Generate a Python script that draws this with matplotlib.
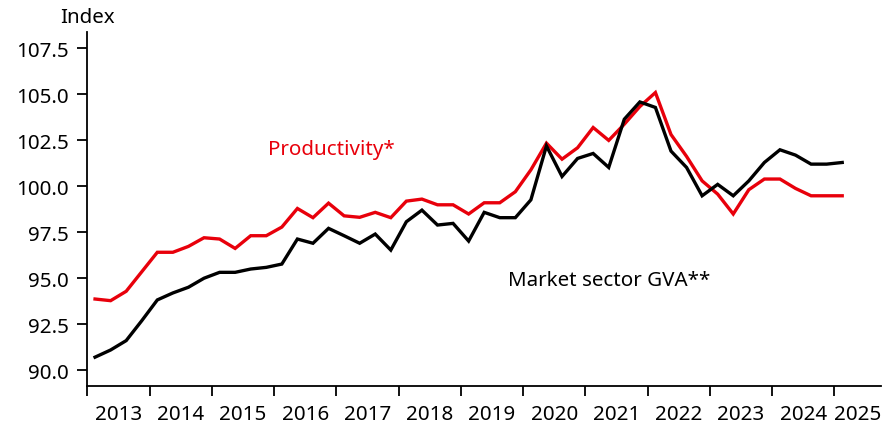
import numpy as np
import matplotlib
matplotlib.use("Agg")
import matplotlib.pyplot as plt

# ── Data (quarterly, 2013 Q1 – 2025 Q1) ─────────────────────────────────────
start_year = 2013
productivity = [
    93.88, 93.79, 94.30, 95.36, 96.42, 96.42, 96.74, 97.21, 97.14, 96.63,
    97.32, 97.32, 97.79, 98.80, 98.30, 99.09, 98.40, 98.32, 98.59, 98.30,
    99.20, 99.31, 99.00, 99.00, 98.50, 99.11, 99.11, 99.71, 100.90, 102.35,
    101.48, 102.10, 103.20, 102.50, 103.38, 104.34, 105.10, 102.82, 101.63, 100.30,
    99.58, 98.50, 99.82, 100.40, 100.40, 99.89, 99.49, 99.49, 99.49,
]
market_gva = [
    90.72, 91.11, 91.62, 92.70, 93.83, 94.21, 94.52, 95.01, 95.33, 95.33,
    95.51, 95.60, 95.78, 97.14, 96.91, 97.72, 97.32, 96.91, 97.41, 96.54,
    98.08, 98.71, 97.90, 97.99, 97.03, 98.59, 98.30, 98.30, 99.27, 102.20,
    100.54, 101.52, 101.79, 101.03, 103.65, 104.59, 104.29, 101.92, 101.03, 99.49,
    100.11, 99.49, 100.30, 101.30, 101.99, 101.70, 101.21, 101.21, 101.30,
]
year_labels = [str(y) for y in range(2013, 2026)]
y_ticks = [90.0, 92.5, 95.0, 97.5, 100.0, 102.5, 105.0, 107.5]

# ── Style ────────────────────────────────────────────────────────────────────
plt.rcParams["font.family"] = ["Noto Sans", "DejaVu Sans"]
RED = "#e8000b"
FS = 14.8

x = start_year + (np.arange(len(productivity)) + 0.5) / 4

fig = plt.figure(figsize=(8.95, 4.27), dpi=100)
ax = fig.add_axes([0.0975, 0.0944, 0.887, 0.8283])

ax.plot(x, productivity, color=RED, lw=2.4, solid_joinstyle="miter")
ax.plot(x, market_gva, color="black", lw=2.4, solid_joinstyle="miter")

ax.set_xlim(2013, 2025.75)
ax.set_ylim(89.17, 108.39)

for side in ("top", "right"):
    ax.spines[side].set_visible(False)
for side in ("left", "bottom"):
    ax.spines[side].set_linewidth(1.3)

# year boundaries as tick marks, labels centred in each year
ax.set_xticks(range(2013, 2026))
ax.set_xticklabels([])
label_pos = [y + 0.5 for y in range(2013, 2025)] + [2025.375]
ax.set_xticks(label_pos, minor=True)
ax.set_xticklabels(year_labels, minor=True, fontsize=FS)
ax.tick_params(axis="x", which="major", length=7, width=1.3)
ax.tick_params(axis="x", which="minor", length=0, pad=13)

ax.set_yticks(y_ticks)
ax.set_yticklabels([f"{v:.1f}" for v in y_ticks], fontsize=FS)
ax.tick_params(axis="y", length=7, width=1.3, pad=6)

fig.text(60 / 895, 1 - 18 / 427, "Index", fontsize=FS, va="center", ha="left")
ax.text(2016.92, 102.03, "Productivity*", color=RED, fontsize=FS,
        ha="center", va="center")
ax.text(2021.39, 94.91, "Market sector GVA**", color="black", fontsize=FS,
        ha="center", va="center")

fig.savefig("out.png", dpi=100)
